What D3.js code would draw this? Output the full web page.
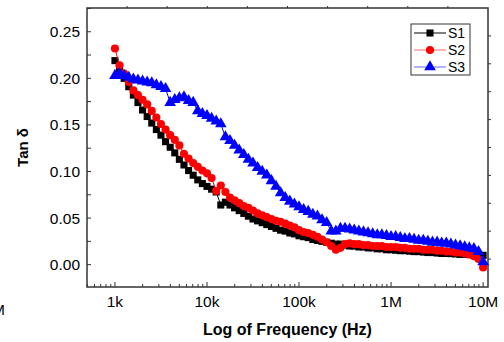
<!DOCTYPE html>
<html>
<head>
<meta charset="utf-8">
<script src="https://cdn.jsdelivr.net/npm/d3@7"></script>
<style>
  body { margin: 0; background: #fff; }
  text { font-family: "Liberation Sans", Arial, sans-serif; fill: #000; }
</style>
</head>
<body>
<div id="chart"></div>
<script>
// frequency points (Hz)
var freq = [1000,1122,1259,1413,1585,1778,1995,2239,2512,2818,3162,3548,3981,4467,5012,5623,6310,7079,7943,8913,
  10000,11220,12590,14130,15850,17780,19950,22390,25120,28180,31620,35480,39810,44670,50120,56230,63100,70790,79430,89130,
  100000,112200,125900,141300,158500,177800,199500,223900,251200,281800,316200,354800,398100,446700,501200,562300,631000,707900,794300,891300,
  1000000,1122000,1259000,1413000,1585000,1778000,1995000,2239000,2512000,2818000,3162000,3548000,3981000,4467000,5012000,5623000,6310000,7079000,7943000,8913000,10000000]

var s1 = [0.219,0.209,0.200,0.191,0.182,0.174,0.166,0.159,0.152,0.145,0.139,0.132,0.126,0.120,0.113,0.107,0.101,0.096,0.091,0.087,
  0.084,0.081,0.078,0.064,0.067,0.064,0.061,0.058,0.055,0.052,0.049,0.047,0.045,0.043,0.041,0.039,0.037,0.036,0.034,0.033,
  0.031,0.030,0.029,0.027,0.026,0.025,0.024,0.023,0.022,0.022,0.021,0.020,0.020,0.019,0.019,0.018,0.018,0.017,0.017,0.016,
  0.016,0.0155,0.015,0.015,0.0145,0.014,0.014,0.0135,0.013,0.013,0.0125,0.012,0.012,0.0118,0.0115,0.011,0.011,0.0108,0.0105,0.0102,0.010]

var s2 = [0.232,0.214,0.205,0.196,0.187,0.182,0.177,0.172,0.165,0.158,0.151,0.145,0.139,0.134,0.128,0.119,0.114,0.109,0.105,0.101,
  0.098,0.093,0.079,0.085,0.078,0.072,0.069,0.066,0.063,0.061,0.058,0.055,0.053,0.051,0.049,0.047,0.046,0.044,0.042,0.040,
  0.037,0.035,0.034,0.032,0.030,0.027,0.024,0.020,0.016,0.018,0.022,0.023,0.022,0.022,0.021,0.021,0.020,0.020,0.020,0.019,
  0.019,0.019,0.018,0.018,0.017,0.017,0.017,0.016,0.016,0.016,0.015,0.015,0.014,0.014,0.013,0.013,0.012,0.011,0.009,0.006,-0.003]

var s3 = [0.203,0.205,0.203,0.201,0.199,0.198,0.197,0.196,0.195,0.193,0.191,0.189,0.174,0.177,0.179,0.180,0.176,0.174,0.165,0.162,
  0.160,0.157,0.154,0.151,0.137,0.133,0.128,0.123,0.118,0.113,0.109,0.104,0.100,0.096,0.090,0.084,0.077,0.072,0.068,0.065,
  0.062,0.059,0.057,0.054,0.052,0.048,0.045,0.036,0.036,0.039,0.039,0.038,0.037,0.036,0.035,0.034,0.033,0.032,0.032,0.031,
  0.030,0.030,0.029,0.028,0.028,0.027,0.026,0.026,0.025,0.024,0.024,0.023,0.023,0.022,0.021,0.020,0.019,0.018,0.017,0.014,0.003]

var seriesNames = ["S1", "S2", "S3"]
var xTicks = [1e3, 1e4, 1e5, 1e6, 1e7]
var xTickLabels = ["1k", "10k", "100k", "1M", "10M"]
var yTicks = [0, 0.05, 0.10, 0.15, 0.20, 0.25]

var width = 504, height = 342
var margin = { top: 8, right: 16, bottom: 55, left: 87 }

var svg = d3.select("#chart").append("svg")
    .attr("width", width)
    .attr("height", height)

var x = d3.scaleLog()
    .domain([497, 11300000])
    .range([margin.left, width - margin.right])

var y = d3.scaleLinear()
    .domain([-0.024, 0.2755])
    .range([height - margin.bottom, margin.top])

var x0 = margin.left, x1 = width - margin.right
var y0 = height - margin.bottom, y1 = margin.top

// minor ticks on log axis
var xMinor = []
;[100, 1000, 10000, 100000, 1000000, 10000000].forEach(function (dec) {
    for (var k = 2; k <= 9; k++) {
        var v = dec * k
        if (v >= 497 && v <= 11300000) xMinor.push(v)
    }
})
var yMinor = d3.range(-0.025, 0.276, 0.025)

var axisColor = "#333"

// bottom axis
var gx = svg.append("g")
gx.selectAll(".minor").data(xMinor).enter().append("line")
    .attr("x1", d => x(d)).attr("x2", d => x(d))
    .attr("y1", y0).attr("y2", y0 - 3)
    .attr("stroke", axisColor).attr("stroke-width", 1)
gx.selectAll(".major").data(xTicks).enter().append("line")
    .attr("x1", d => x(d)).attr("x2", d => x(d))
    .attr("y1", y0).attr("y2", y0 - 5)
    .attr("stroke", axisColor).attr("stroke-width", 1)
gx.selectAll("text").data(xTicks).enter().append("text")
    .attr("x", d => x(d))
    .attr("y", y0 + 20)
    .attr("text-anchor", "middle")
    .style("font-size", "15.5px")
    .text((d, i) => xTickLabels[i])

// left axis
var gy = svg.append("g")
gy.selectAll(".minor").data(yMinor.filter(d => y(d) > y1 && y(d) < y0)).enter().append("line")
    .attr("x1", x0).attr("x2", x0 + 4)
    .attr("y1", d => y(d)).attr("y2", d => y(d))
    .attr("stroke", axisColor).attr("stroke-width", 1)
gy.selectAll("text").data(yTicks).enter().append("text")
    .attr("x", x0 - 7)
    .attr("y", d => y(d))
    .attr("dy", "0.36em")
    .attr("text-anchor", "end")
    .style("font-size", "15.5px")
    .text(d => d3.format(".2f")(d))

// top and right axes (plain linear divisions, as in the original)
var xt = d3.scaleLinear().domain([0, 10]).range([x0, x1])
svg.append("g").selectAll("line").data(xt.ticks(10).slice(1, -1)).enter().append("line")
    .attr("x1", d => xt(d)).attr("x2", d => xt(d))
    .attr("y1", y1).attr("y2", y1 - 2)
    .attr("stroke", axisColor)
var yr = d3.scaleLinear().domain([0, 10]).range([y0, y1])
svg.append("g").selectAll("line").data(yr.ticks(10).slice(1, -1)).enter().append("line")
    .attr("x1", x1).attr("x2", x1 + 3)
    .attr("y1", d => yr(d)).attr("y2", d => yr(d))
    .attr("stroke", axisColor)

// frame
svg.append("rect")
    .attr("x", x0).attr("y", y1)
    .attr("width", x1 - x0).attr("height", y0 - y1)
    .attr("fill", "none")
    .attr("stroke", axisColor)
    .attr("stroke-width", 1.5)

// series
var colors = ["#000000", "#ff0000", "#0000ff"]
var shapes = [d3.symbolSquare, d3.symbolCircle, d3.symbolTriangle]
var sizes = [50, 52, 58]
var allSeries = [s1, s2, s3]

var line = d3.line()
    .x(d => x(d[0]))
    .y(d => y(d[1]))

allSeries.forEach(function (vals, i) {
    var pts = freq.map((f, j) => [f, vals[j]])
    var g = svg.append("g")
    g.append("path")
        .datum(pts)
        .attr("d", line)
        .attr("fill", "none")
        .attr("stroke", colors[i])
        .attr("stroke-width", 1)
    g.selectAll("path.pt").data(pts).enter().append("path")
        .attr("class", "pt")
        .attr("d", d3.symbol().type(shapes[i]).size(sizes[i]))
        .attr("transform", d => "translate(" + x(d[0]) + "," + y(d[1]) + ")")
        .attr("fill", colors[i])
})

// axis titles
svg.append("text")
    .attr("transform", "translate(28," + ((y0 + y1) / 2) + ") rotate(-90)")
    .attr("text-anchor", "middle")
    .style("font-size", "15px")
    .style("font-weight", "bold")
    .text("Tan δ")

svg.append("text")
    .attr("x", (x0 + x1) / 2)
    .attr("y", 335)
    .attr("text-anchor", "middle")
    .style("font-size", "16px")
    .style("font-weight", "bold")
    .text("Log of Frequency (Hz)")

// leftover clipped label at the far left
svg.append("text")
    .attr("x", 5)
    .attr("y", 315)
    .attr("text-anchor", "end")
    .style("font-size", "15.5px")
    .text("10M")

// legend
var lg = svg.append("g").attr("transform", "translate(411,24)")
lg.append("rect")
    .attr("width", 59).attr("height", 51)
    .attr("fill", "#fff")
    .attr("stroke", "#333")
    .attr("stroke-width", 1)
seriesNames.forEach(function (name, i) {
    var ry = 9 + i * 17
    lg.append("line")
        .attr("x1", 3).attr("x2", 35)
        .attr("y1", ry).attr("y2", ry)
        .attr("stroke", colors[i])
        .attr("stroke-opacity", i == 0 ? 1 : 0.6)
    lg.append("path")
        .attr("d", d3.symbol().type(shapes[i]).size(sizes[i]))
        .attr("transform", "translate(19," + ry + ")")
        .attr("fill", colors[i])
    lg.append("text")
        .attr("x", 37)
        .attr("y", ry)
        .attr("dy", "0.36em")
        .style("font-size", "14px")
        .text(name)
})
</script>
</body>
</html>
